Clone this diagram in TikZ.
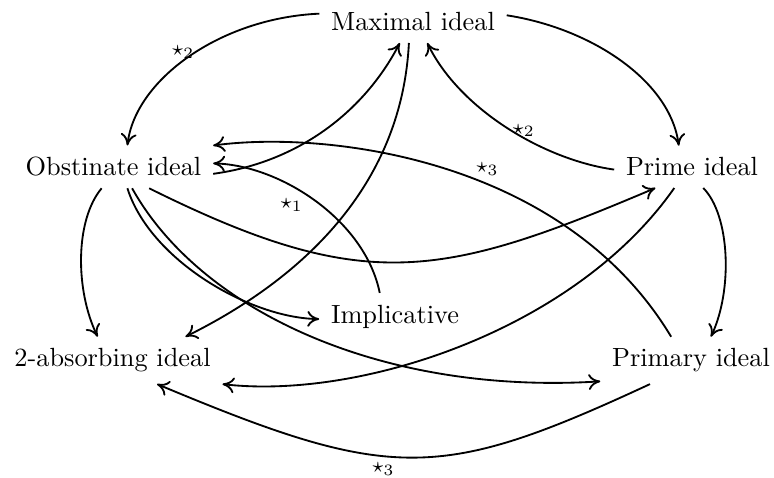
\documentclass[tikz,border=0pt]{standalone}
\usepackage{amsmath}
\usepackage{tikz}
\usetikzlibrary{arrows.meta}

\begin{document}
\begin{tikzpicture}[x=0.38pt, y=-0.38pt,
    ideal/.style={inner sep=4.3pt},
    imp/.style={-{To[length=4.5pt,width=6pt]}, line width=0.7pt},
    lbl/.style={font=\footnotesize, inner sep=0pt}]
  \useasboundingbox (0,0) rectangle (774,477);
  % ideals
  \node[ideal] (max) at (413,21.85)  {Maximal ideal};
  \node[ideal] (obs) at (113.5,166.85) {Obstinate ideal};
  \node[ideal] (pri) at (692,166.85) {Prime ideal};
  \node[ideal] (imp) at (395,316.4)  {Implicative};
  \node[ideal] (abs) at (112.5,360.4) {2-absorbing ideal};
  \node[ideal] (pry) at (691,360.4)  {Primary ideal};
  % Maximal -> Obstinate
  \draw[imp] (max.175) .. controls (220,18) and (135,80) .. (obs.57)
    node[lbl, pos=0.47, anchor=east]{$\star_2$};
  % Maximal -> Prime
  \draw[imp] (max.4) .. controls (590,28) and (670,80) .. (pri.122);
  % Prime -> Maximal
  \draw[imp] (pri.182) .. controls (545,160) and (460,110) .. (max.-56)
    node[lbl, pos=0.42, anchor=south]{$\star_2$};
  % Obstinate -> Maximal
  \draw[imp] (obs.-4) .. controls (300,162) and (365,110) .. (max.-122);
  % Maximal -> 2-absorbing
  \draw[imp] (max.-101) .. controls (402,180) and (310,275) .. (abs.18);
  % Primary -> Obstinate
  \draw[imp] (pry.130) .. controls (565,160) and (330,130) .. (obs.north east)
    node[lbl, pos=0.42, above=3pt]{$\star_3$};
  % Implicative -> Obstinate
  \draw[imp] (imp.123) .. controls (365,220) and (280,165) .. (obs.2)
    node[lbl, pos=0.55, below left=1pt]{$\star_1$};
  % Obstinate -> Prime
  \draw[imp] (obs.-31) .. controls (364,295) and (441,279) .. (pri.-150);
  % Obstinate -> Implicative
  \draw[imp] (obs.-57) .. controls (150,260) and (250,318) .. (imp.182);
  % Obstinate -> Primary
  \draw[imp] (obs.-49) .. controls (200,310) and (380,395) .. (pry.-167);
  % Obstinate -> 2-absorbing
  \draw[imp] (obs.-119) .. controls (75,220) and (75,290) .. (abs.122);
  % Prime -> Primary
  \draw[imp] (pri.-62) .. controls (730,215) and (733,290) .. (pry.50);
  % Prime -> 2-absorbing
  \draw[imp] (pri.-130) .. controls (575,330) and (360,400) .. (abs.south east);
  % Primary -> 2-absorbing
  \draw[imp] (pry.-150) .. controls (439,482) and (391,482) .. (abs.-28)
    node[lbl, pos=0.57, below=2pt]{$\star_3$};
\end{tikzpicture}
\end{document}
